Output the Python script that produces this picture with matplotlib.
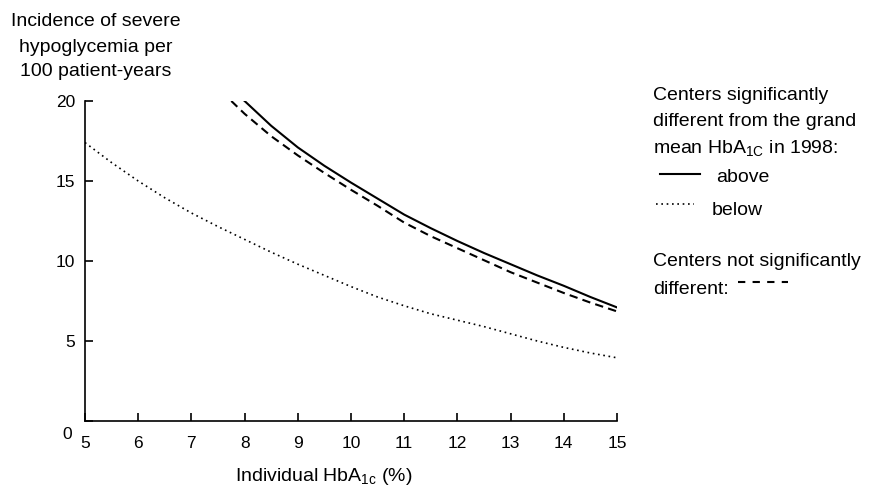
import matplotlib
matplotlib.use('Agg')
import matplotlib.pyplot as plt
from matplotlib.lines import Line2D
from matplotlib.transforms import ScaledTranslation

plt.rcParams['font.family'] = ['Liberation Sans', 'DejaVu Sans']
plt.rcParams['mathtext.fontset'] = 'custom'
plt.rcParams['mathtext.rm'] = 'Liberation Sans'
plt.rcParams['mathtext.it'] = 'Liberation Sans:italic'

# Centers above the grand mean HbA1c (solid)
above_x = [8.0, 8.5, 9.0, 9.5, 10.0, 10.5, 11.0, 11.5, 12.0, 12.5, 13.0, 13.5, 14.0, 14.5, 15.0]
above_y = [20.0, 18.45, 17.1, 15.95, 14.9, 13.9, 12.9, 12.05, 11.25, 10.5, 9.8, 9.1, 8.45, 7.75, 7.1]

# Centers not significantly different (dashed)
notsig_x = [7.75, 8.0, 8.5, 9.0, 9.5, 10.0, 10.5, 11.0, 11.5, 12.0, 12.5, 13.0, 13.5, 14.0, 14.5, 15.0]
notsig_y = [20.0, 19.2, 17.8, 16.6, 15.5, 14.45, 13.45, 12.4, 11.55, 10.8, 10.05, 9.3, 8.65, 8.0, 7.4, 6.85]

# Centers below the grand mean (dotted)
below_x = [5.0, 5.5, 6.0, 6.5, 7.0, 7.5, 8.0, 8.5, 9.0, 9.5, 10.0, 10.5, 11.0, 11.5, 12.0, 12.5, 13.0, 13.5, 14.0, 14.5, 15.0]
below_y = [17.4, 16.15, 15.0, 13.95, 13.0, 12.15, 11.35, 10.55, 9.8, 9.1, 8.4, 7.75, 7.2, 6.7, 6.3, 5.9, 5.45, 5.0, 4.6, 4.25, 3.95]

x_ticks = list(range(5, 16))
y_ticks = [0, 5, 10, 15, 20]

W, H = 869, 487
fig = plt.figure(figsize=(W / 100, H / 100), dpi=100)
ax = fig.add_axes([85 / W, 66 / H, 532 / W, 320 / H])

ax.plot(above_x, above_y, color='black', lw=1.5, solid_joinstyle='round')
ax.plot(notsig_x, notsig_y, color='black', lw=1.5, linestyle=(0, (4, 2.5)))
ax.plot(below_x, below_y, color='black', lw=1.2, linestyle=(0, (1, 2.2)))

ax.set_xlim(5, 15)
ax.set_ylim(0, 20)
ax.set_xticks(x_ticks)
ax.set_yticks(y_ticks)
for s in ['top', 'right']:
    ax.spines[s].set_visible(False)
for s in ['left', 'bottom']:
    ax.spines[s].set_linewidth(1.2)
ax.tick_params(direction='in', length=6, width=1.2, labelsize=12.5)
ax.tick_params(axis='x', pad=11)
ax.tick_params(axis='y', pad=7)

# the "0" sits a bit below the x axis in the original
fig.canvas.draw()
for lab in ax.get_yticklabels():
    if lab.get_text() == '0':
        lab.set_transform(lab.get_transform() + ScaledTranslation(-0.03, -0.12, fig.dpi_scale_trans))

def fy(py):
    return 1 - py / H

FS = 14

# y axis title, top left
for txt, py in [('Incidence of severe', 22), ('hypoglycemia per', 47), ('100 patient-years', 71)]:
    fig.text(96 / W, fy(py), txt, ha='center', va='center', fontsize=FS)

fig.text(324 / W, fy(481), r'Individual HbA$_{\mathrm{1c}}$ (%)', ha='center', va='baseline', fontsize=FS)

# hand made legend on the right
for txt, py in [('Centers significantly', 95), ('different from the grand', 122),
                (r'mean HbA$_{\mathrm{1C}}$ in 1998:', 148)]:
    fig.text(653 / W, fy(py), txt, ha='left', va='center', fontsize=FS)
fig.add_artist(Line2D([660 / W, 700 / W], [fy(174), fy(174)], color='black', lw=1.5))
fig.text(716 / W, fy(178), 'above', ha='left', va='center', fontsize=FS)
fig.add_artist(Line2D([656 / W, 694 / W], [fy(204), fy(204)], color='black', lw=1.2, linestyle=(0, (1, 2.2))))
fig.text(712 / W, fy(210), 'below', ha='left', va='center', fontsize=FS)
fig.text(653 / W, fy(262), 'Centers not significantly', ha='left', va='center', fontsize=FS)
fig.text(653 / W, fy(290), 'different:', ha='left', va='center', fontsize=FS)
fig.add_artist(Line2D([738 / W, 788 / W], [fy(282), fy(282)], color='black', lw=1.5, linestyle=(0, (3.5, 3.5))))

fig.savefig('out.png', dpi=100)
